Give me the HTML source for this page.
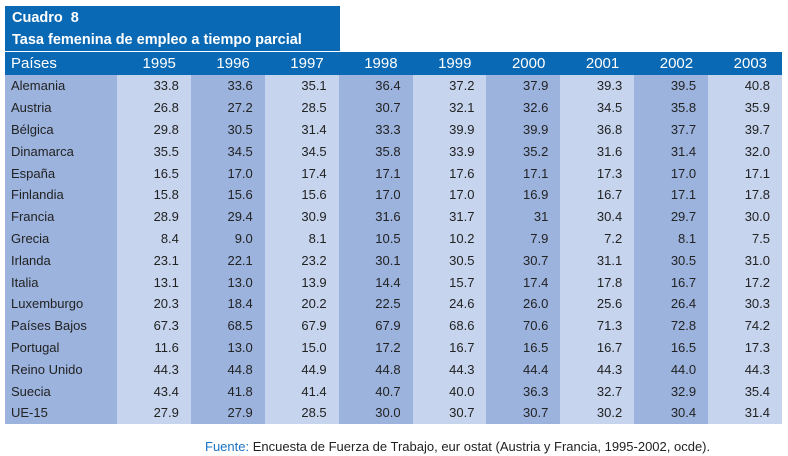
<!DOCTYPE html>
<html><head><meta charset="utf-8"><style>
body{margin:0;width:788px;height:456px;background:#fff;font-family:"Liberation Sans",sans-serif;position:relative;overflow:hidden}
#title{position:absolute;left:5px;top:6px;width:335px;height:45px;background:#0a69b4;color:#fff;font-weight:bold;font-size:14.5px}
#title div{position:absolute;left:7px}
table{position:absolute;left:5px;top:52px;border-collapse:collapse;table-layout:fixed}
td,th{padding:0 12px 0 0;height:21.8px;font-size:13px;text-align:right;color:#222;font-weight:normal}
th{background:#0a69b4;color:#fff;font-size:15px;height:23px;padding-right:15px}
td:first-child,th:first-child{text-align:left;padding-left:6px}
td.c0,td.c2,td.c4,td.c6,td.c8{background:#c6d4ee}
td.c1,td.c3,td.c5,td.c7,td.cn{background:#9cb3de}
#src{position:absolute;left:205px;top:439px;font-size:13px;color:#222}
#src span{color:#1a73c4}
</style></head><body>
<div id="title"><div style="top:4px">Cuadro&nbsp; 8</div><div style="top:26px">Tasa femenina de empleo a tiempo parcial</div></div>
<table id="t">
<colgroup><col style="width:112px"><col span="9" style="width:73.9px"></colgroup>
<thead><tr id="hr"></tr></thead><tbody id="tb"></tbody></table>
<div id="src"><span>Fuente:</span> Encuesta de Fuerza de Trabajo, eur ostat (Austria y Francia, 1995-2002, ocde).</div>
<script>
const years=["1995","1996","1997","1998","1999","2000","2001","2002","2003"];
const countries=["Alemania","Austria","Bélgica","Dinamarca","España","Finlandia","Francia","Grecia","Irlanda","Italia","Luxemburgo","Países Bajos","Portugal","Reino Unido","Suecia","UE-15"];
const values=[
["33.8","33.6","35.1","36.4","37.2","37.9","39.3","39.5","40.8"],
["26.8","27.2","28.5","30.7","32.1","32.6","34.5","35.8","35.9"],
["29.8","30.5","31.4","33.3","39.9","39.9","36.8","37.7","39.7"],
["35.5","34.5","34.5","35.8","33.9","35.2","31.6","31.4","32.0"],
["16.5","17.0","17.4","17.1","17.6","17.1","17.3","17.0","17.1"],
["15.8","15.6","15.6","17.0","17.0","16.9","16.7","17.1","17.8"],
["28.9","29.4","30.9","31.6","31.7","31","30.4","29.7","30.0"],
["8.4","9.0","8.1","10.5","10.2","7.9","7.2","8.1","7.5"],
["23.1","22.1","23.2","30.1","30.5","30.7","31.1","30.5","31.0"],
["13.1","13.0","13.9","14.4","15.7","17.4","17.8","16.7","17.2"],
["20.3","18.4","20.2","22.5","24.6","26.0","25.6","26.4","30.3"],
["67.3","68.5","67.9","67.9","68.6","70.6","71.3","72.8","74.2"],
["11.6","13.0","15.0","17.2","16.7","16.5","16.7","16.5","17.3"],
["44.3","44.8","44.9","44.8","44.3","44.4","44.3","44.0","44.3"],
["43.4","41.8","41.4","40.7","40.0","36.3","32.7","32.9","35.4"],
["27.9","27.9","28.5","30.0","30.7","30.7","30.2","30.4","31.4"]];
const hr=document.getElementById('hr');
let th=document.createElement('th');th.textContent='Países';


hr.appendChild(th);
years.forEach(y=>{const h=document.createElement('th');h.textContent=y;


hr.appendChild(h);});
const tb=document.getElementById('tb');
countries.forEach((c,i)=>{const tr=document.createElement('tr');


const td=document.createElement('td');td.className='cn';td.textContent=c;


tr.appendChild(td);
values[i].forEach((v,j)=>{const d=document.createElement('td');d.className='c'+j;d.textContent=v;


tr.appendChild(d);});
tb.appendChild(tr);});
</script>
</body></html>
